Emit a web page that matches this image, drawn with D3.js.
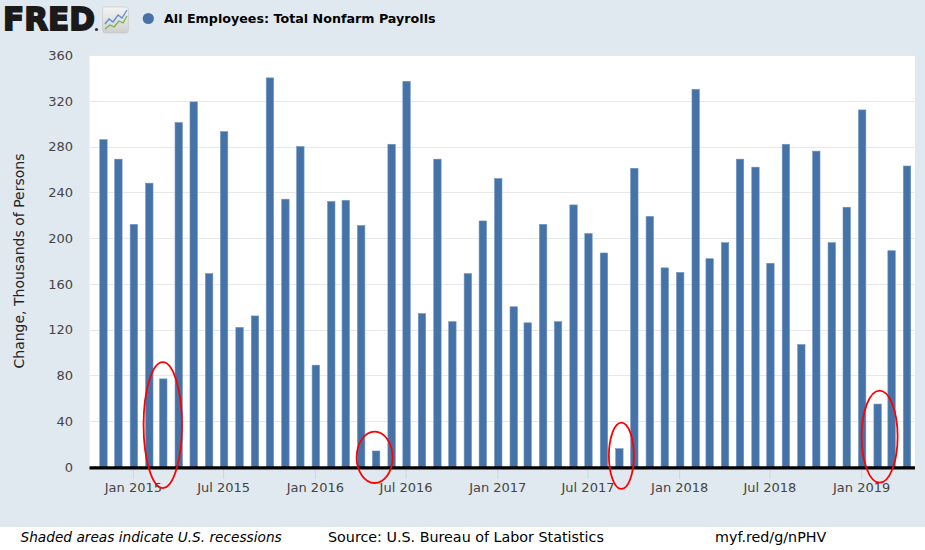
<!DOCTYPE html>
<html>
<head>
<meta charset="utf-8">
<script src="https://cdn.jsdelivr.net/npm/d3@7"></script>
<style>
  html, body { margin: 0; padding: 0; background: #e1e9f0; }
  svg { display: block; }
  text { font-family: "DejaVu Sans", Verdana, sans-serif; }
</style>
</head>
<body>
<svg id="chart" width="925" height="550"></svg>
<script>
// ---- data ----
const months = [
  "2014-11","2014-12",
  "2015-01","2015-02","2015-03","2015-04","2015-05","2015-06","2015-07","2015-08","2015-09","2015-10","2015-11","2015-12",
  "2016-01","2016-02","2016-03","2016-04","2016-05","2016-06","2016-07","2016-08","2016-09","2016-10","2016-11","2016-12",
  "2017-01","2017-02","2017-03","2017-04","2017-05","2017-06","2017-07","2017-08","2017-09","2017-10","2017-11","2017-12",
  "2018-01","2018-02","2018-03","2018-04","2018-05","2018-06","2018-07","2018-08","2018-09","2018-10","2018-11","2018-12",
  "2019-01","2019-02","2019-03","2019-04"
];
const payrollChange = [
  286,269,
  212,248,77,301,319,169,293,122,132,340,234,280,
  89,232,233,211,14,282,337,134,269,127,169,215,
  252,140,126,212,127,229,204,187,16,261,219,174,
  170,330,182,196,269,262,178,282,107,276,196,227,
  312,55,189,263
];
const yTicks = [0,40,80,120,160,200,240,280,320,360];
const xTickDates = ["2015-01-01","2015-07-01","2016-01-01","2016-07-01","2017-01-01","2017-07-01","2018-01-01","2018-07-01","2019-01-01"];
const xTickLabels = ["Jan 2015","Jul 2015","Jan 2016","Jul 2016","Jan 2017","Jul 2017","Jan 2018","Jul 2018","Jan 2019"];
// red hand-drawn circles: centre date, top value, bottom value
const circledDates = ["2015-03-02","2016-04-30","2017-09-07","2019-02-07"];
const circledTop = [91.7, 30.9, 38.7, 66.7];
const circledBottom = [-18.4, -14, -19.2, -13.7];

const titleText = "All Employees: Total Nonfarm Payrolls";
const yAxisTitle = "Change, Thousands of Persons";
const footNote = "Shaded areas indicate U.S. recessions";
const sourceText = "Source: U.S. Bureau of Labor Statistics";
const linkText = "myf.red/g/nPHV";

// ---- layout ----
const svg = d3.select("#chart");
const W = 925, H = 550;
const plot = { left: 89.5, right: 915, top: 55, bottom: 467 };
const parseM = d3.timeParse("%Y-%m");
const parseD = d3.timeParse("%Y-%m-%d");

const x = d3.scaleTime()
  .domain([parseD("2014-10-06"), parseD("2019-04-19")])
  .range([plot.left, plot.right]);
const y = d3.scaleLinear().domain([0, 360]).range([plot.bottom, plot.top]);

svg.append("rect").attr("width", W).attr("height", H).attr("fill", "#e1e9f0");
// footer white band
svg.append("rect").attr("x", 0).attr("y", 527).attr("width", W).attr("height", H - 527).attr("fill", "#ffffff");

// plot background
svg.append("rect")
  .attr("x", plot.left).attr("y", plot.top)
  .attr("width", plot.right - plot.left).attr("height", plot.bottom - plot.top)
  .attr("fill", "#ffffff");

// grid lines
svg.append("g").selectAll("line").data(yTicks.filter(d => d > 0)).join("line")
  .attr("x1", plot.left).attr("x2", plot.right)
  .attr("y1", d => Math.round(y(d)) + 0.5).attr("y2", d => Math.round(y(d)) + 0.5)
  .attr("stroke", "#e8e8e8").attr("stroke-width", 1);

// y axis labels
const yAxis = d3.axisLeft(y).tickValues(yTicks).tickSize(0).tickPadding(0);
const gy = svg.append("g").attr("transform", `translate(${plot.left - 16.5},0)`).call(yAxis);
gy.select(".domain").remove();
gy.selectAll("text").attr("font-size", 13).attr("fill", "#444444")
  .attr("font-family", "DejaVu Sans, Verdana, sans-serif").attr("dy", "0.33em");

// x axis ticks + labels
const xAxis = d3.axisBottom(x)
  .tickValues(xTickDates.map(parseD))
  .tickFormat((d, i) => xTickLabels[i])
  .tickSize(11).tickPadding(4);
const gx = svg.append("g").attr("transform", `translate(0,${plot.bottom + 1})`).call(xAxis);
gx.select(".domain").remove();
gx.selectAll("line").attr("stroke", "#c8d6e4").attr("stroke-width", 1);
gx.selectAll("text").attr("font-size", 13).attr("fill", "#444444")
  .attr("font-family", "DejaVu Sans, Verdana, sans-serif");

// bars
const barW = 7.4;
svg.append("g").selectAll("rect").data(payrollChange).join("rect")
  .attr("x", (d, i) => x(parseM(months[i])) + 1 - barW / 2)
  .attr("y", d => y(d))
  .attr("width", barW)
  .attr("height", d => y(0) - y(d))
  .attr("fill", "#4572a7")
  .attr("stroke", "#6f93c0").attr("stroke-width", 0.6);

// baseline
svg.append("line")
  .attr("x1", plot.left).attr("x2", plot.right)
  .attr("y1", y(0) + 0.8).attr("y2", y(0) + 0.8)
  .attr("stroke", "#000000").attr("stroke-width", 3.2);

// y axis title
svg.append("text")
  .attr("transform", `translate(24,${(plot.top + plot.bottom) / 2}) rotate(-90)`)
  .attr("text-anchor", "middle")
  .attr("font-size", 14).attr("fill", "#222222")
  .text(yAxisTitle);

// red annotation ellipses
const rxPx = [19.2, 18, 12.5, 18];
svg.append("g").selectAll("ellipse").data(circledDates).join("ellipse")
  .attr("cx", d => x(parseD(d)))
  .attr("cy", (d, i) => (y(circledTop[i]) + y(circledBottom[i])) / 2)
  .attr("rx", (d, i) => rxPx[i])
  .attr("ry", (d, i) => (y(circledBottom[i]) - y(circledTop[i])) / 2)
  .attr("fill", "none").attr("stroke", "#ff0000").attr("stroke-width", 1.8);

// header: FRED logo
const logo = svg.append("g");
logo.append("text")
  .attr("x", 3).attr("y", 30)
  .attr("font-family", "Liberation Sans, Arial, sans-serif")
  .attr("font-weight", 900).attr("font-size", 32)
  .attr("textLength", 92).attr("lengthAdjust", "spacingAndGlyphs")
  .attr("fill", "#1a1a1a").attr("stroke", "#1a1a1a").attr("stroke-width", 1.8)
  .text("FRED");
logo.append("circle").attr("cx", 96.5).attr("cy", 29.5).attr("r", 1.6).attr("fill", "#333");

const defs = svg.append("defs");
const grad = defs.append("linearGradient").attr("id", "iconGrad").attr("x1", 0).attr("y1", 0).attr("x2", 0).attr("y2", 1);
grad.append("stop").attr("offset", "0%").attr("stop-color", "#f4f4f4");
grad.append("stop").attr("offset", "100%").attr("stop-color", "#cfcfcf");
logo.append("rect").attr("x", 102.5).attr("y", 7).attr("width", 26).attr("height", 26).attr("rx", 3)
  .attr("fill", "url(#iconGrad)").attr("stroke", "#c4c4c4").attr("stroke-width", 0.6);
logo.append("polyline")
  .attr("points", "105,24 109,19 113,22 118,15 122,18 127,10")
  .attr("fill", "none").attr("stroke", "#5b8fd0").attr("stroke-width", 1.3);
logo.append("polyline")
  .attr("points", "105,29 110,25 114,27 119,21 123,23 127,16")
  .attr("fill", "none").attr("stroke", "#7bb346").attr("stroke-width", 1.3);

// legend / title
svg.append("circle").attr("cx", 148.3).attr("cy", 18.5).attr("r", 5.6).attr("fill", "#4572a7");
svg.append("text")
  .attr("x", 164).attr("y", 23.3)
  .attr("font-size", 12.7).attr("font-weight", "bold").attr("fill", "#000000")
  .text(titleText);

// footer
svg.append("text").attr("x", 20.5).attr("y", 541.5)
  .attr("font-size", 13.7).attr("font-style", "italic").attr("fill", "#000000")
  .text(footNote);
svg.append("text").attr("x", 328).attr("y", 541.5)
  .attr("font-size", 14.3).attr("fill", "#000000")
  .text(sourceText);
svg.append("text").attr("x", 715).attr("y", 541.5)
  .attr("font-size", 14.3).attr("fill", "#000000")
  .text(linkText);
</script>
</body>
</html>
